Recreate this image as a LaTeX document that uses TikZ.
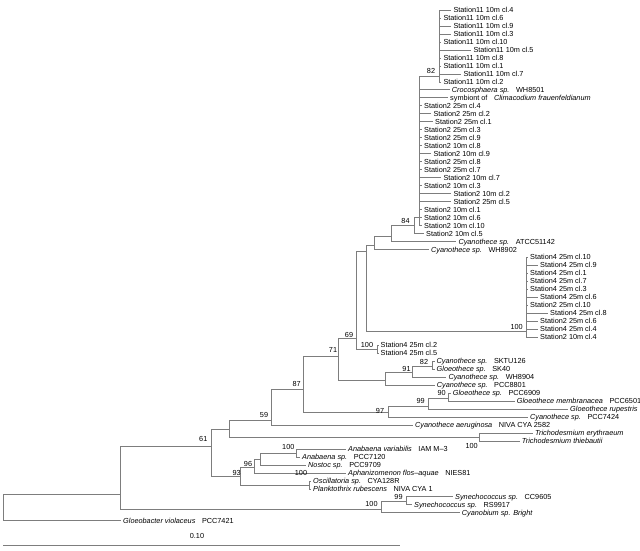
\documentclass[tikz,border=0pt]{standalone}
\usepackage{fontspec}
\setmainfont{Liberation Sans}
\usepackage{tikz}
\definecolor{treegray}{RGB}{125,125,125}
\tikzstyle{leaf}=[anchor=west, inner xsep=2pt, inner ysep=0pt, text height=5.2pt, text depth=0pt, font=\fontsize{7.3}{8}\selectfont]
\tikzstyle{boot}=[inner sep=0pt, font=\fontsize{7.3}{8}\selectfont]
\tikzstyle{branch}=[draw=treegray, line width=.6pt]
\newcommand{\taxon}[2]{\textit{#1}\hspace{.9em}#2}

\begin{document}
\begin{tikzpicture}[x=1pt, y=-1pt]
    \useasboundingbox (0,0) rectangle (640,551);

    %leaves
    \foreach \i/\x/\t in {1/451.3/{Station11 10m cl.4}, 2/441.3/{Station11 10m cl.6}, 3/451.3/{Station11 10m cl.9},
        4/451.3/{Station11 10m cl.3}, 5/441.3/{Station11 10m cl.10}, 6/471.3/{Station11 10m cl.5},
        7/441.3/{Station11 10m cl.8}, 8/441.3/{Station11 10m cl.1}, 9/461.3/{Station11 10m cl.7},
        10/441.3/{Station11 10m cl.2}, 11/449.7/{\taxon{Crocosphaera sp.}{WH8501}},
        12/448/{symbiont of\hspace{.9em}\textit{Climacodium frauenfeldianum}},
        13/422/{Station2 25m cl.4}, 14/431.3/{Station2 25m cl.2}, 15/433/{Station2 25m cl.1},
        16/422/{Station2 25m cl.3}, 17/422/{Station2 25m cl.9}, 18/422/{Station2 10m cl.8},
        19/431.3/{Station2 10m cl.9}, 20/422/{Station2 25m cl.8}, 21/422/{Station2 25m cl.7},
        22/441.3/{Station2 10m cl.7}, 23/422/{Station2 10m cl.3}, 24/451.3/{Station2 10m cl.2},
        25/451.3/{Station2 25m cl.5}, 26/422/{Station2 10m cl.1}, 27/422/{Station2 10m cl.6},
        28/422/{Station2 10m cl.10}, 29/424/{Station2 10m cl.5},
        30/456.3/{\taxon{Cyanothece sp.}{ATCC51142}}, 31/429/{\taxon{Cyanothece sp.}{WH8902}},
        32/528/{Station4 25m cl.10}, 33/538/{Station4 25m cl.9}, 34/528/{Station4 25m cl.1},
        35/528/{Station4 25m cl.7}, 36/528/{Station4 25m cl.3}, 37/538/{Station4 25m cl.6},
        38/528/{Station2 25m cl.10}, 39/548/{Station4 25m cl.8}, 40/538/{Station2 25m cl.6},
        41/538/{Station4 25m cl.4}, 42/538/{Station2 10m cl.4},
        43/378.5/{Station4 25m cl.2}, 44/378.5/{Station4 25m cl.5},
        45/434.5/{\taxon{Cyanothece sp.}{SKTU126}}, 46/434.5/{\taxon{Gloeothece sp.}{SK40}},
        47/446.3/{\taxon{Cyanothece sp.}{WH8904}}, 48/434.7/{\taxon{Cyanothece sp.}{PCC8801}},
        49/450.7/{\taxon{Gloeothece sp.}{PCC6909}}, 50/514.7/{\taxon{Gloeothece membranacea}{PCC6501}},
        51/568/{\textit{Gloeothece rupestris}}, 52/528/{\taxon{Cyanothece sp.}{PCC7424}},
        53/413/{\taxon{Cyanothece aeruginosa}{NIVA CYA 2582}},
        54/533/{\textit{Trichodesmium erythraeum}}, 55/519.7/{\textit{Trichodesmium thiebautii}},
        56/346/{\taxon{Anabaena variabilis}{IAM M–3}}, 57/300/{\taxon{Anabaena sp.}{PCC7120}},
        58/306/{\taxon{Nostoc sp.}{PCC9709}}, 59/346/{\taxon{Aphanizomenon flos–aquae}{NIES81}},
        60/311/{\taxon{Oscillatoria sp.}{CYA128R}}, 61/311/{\taxon{Planktothrix rubescens}{NIVA CYA 1}},
        62/453/{\taxon{Synechococcus sp.}{CC9605}}, 63/412/{\taxon{Synechococcus sp.}{RS9917}},
        64/459.7/{\textit{Cyanobium sp. Bright}}, 65/121/{\taxon{Gloeobacter violaceus}{PCC7421}}}{
    \node [leaf] (l\i) at (\x,{10+(\i-1)*7.98}) {\t};
    }

    %internal nodes
    \coordinate (r) at (3.3,507);
    \coordinate (nIn) at (120.7,494);
    \coordinate (n61) at (211.5,446);
    \coordinate (nX) at (229.3,429.3);
    \coordinate (n59) at (271.7,420.7);
    \coordinate (n87) at (303.3,389.3);
    \coordinate (n71) at (338.3,356);
    \coordinate (n69) at (356.7,338);
    \coordinate (nA) at (366.7,251.7);
    \coordinate (nB) at (374,245);
    \coordinate (nC) at (391.7,236);
    \coordinate (n84) at (414,225);
    \coordinate (nP) at (419,217);
    \coordinate (n82) at (439.3,76);
    \coordinate (nS4) at (526.7,331.7);
    \coordinate (n100b) at (377.5,349);
    \coordinate (nK) at (385,380);
    \coordinate (n91) at (412.7,372.7);
    \coordinate (n82b) at (432.7,366);
    \coordinate (n97) at (388.3,412.7);
    \coordinate (n99) at (428.3,406);
    \coordinate (n90) at (448.3,398.3);
    \coordinate (nTri) at (479.3,437.3);
    \coordinate (n93) at (240,476.7);
    \coordinate (n96) at (254,467.3);
    \coordinate (n60) at (260,459);
    \coordinate (n100a) at (296.7,452.9);
    \coordinate (n100o) at (309,484.8);
    \coordinate (nSy) at (381.7,509.3);
    \coordinate (n99s) at (406,501.5);

    %branches
    \foreach \a/\b in {r/nIn, r/l65, nIn/n61, nIn/nSy, n61/nX, n61/n93, nX/n59, nX/nTri,
        n59/n87, n59/l53, n87/n71, n87/n97, n71/n69, n71/nK, n69/nA, n69/n100b,
        nA/nB, nA/nS4, nB/nC, nB/l31, nC/n84, nC/l30, n84/nP, n84/l29, nP/n82,
        n100b/l43, n100b/l44, nK/n91, nK/l48, n91/n82b, n91/l47, n82b/l45, n82b/l46,
        n97/n99, n97/l52, n99/n90, n99/l51, n90/l49, n90/l50, nTri/l54, nTri/l55,
        n93/n96, n93/n100o, n96/n60, n96/l59, n60/n100a, n60/l58, n100a/l56, n100a/l57,
        n100o/l60, n100o/l61, nSy/n99s, nSy/l64, n99s/l62, n99s/l63} {
    \draw [branch] (\a) |- (\b);
    }
    \foreach \i in {1,...,10} {\draw [branch] (n82) |- (l\i);}
    \foreach \i in {11,...,28} {\draw [branch] (nP) |- (l\i);}
    \foreach \i in {32,...,42} {\draw [branch] (nS4) |- (l\i);}

    %bootstrap values
    \foreach \n/\x/\y/\v in {b82a/431/70.7/82, b84/405.5/221/84, b69/349/335/69, b71/333/350/71,
        b100b/367/344.5/100, b100s/516.7/327.3/100, b82b/424/361.7/82, b91/406.5/368.5/91,
        b87/296.7/384/87, b90/441.7/392.7/90, b99/420.7/400.7/99, b97/380/411/97,
        b59/264/415/59, b61/203.3/439.3/61, b100t/471.7/446/100, b100a/288.3/447.3/100,
        b96/248/464/96, b93/236.7/472.7/93, b100o/301/473.3/100, b99s/398.5/496.5/99,
        b100y/371.5/504/100} {
    \node [boot] (\n) at (\x,\y) {\v};
    }

    %scale
    \coordinate (s0) at (3,545.5);
    \coordinate (s1) at (400,545.5);
    \draw [branch] (s0) -- (s1);
    \node [boot] (sl) at (197,536) {0.10};

\end{tikzpicture}
\end{document}
